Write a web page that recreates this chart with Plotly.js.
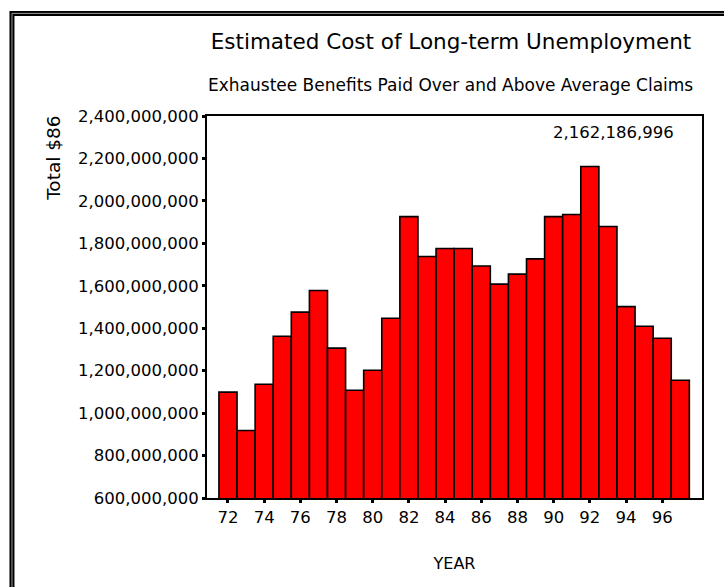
<!DOCTYPE html>
<html>
<head>
<meta charset="utf-8">
<script src="https://cdn.plot.ly/plotly-3.0.1.min.js"></script>
<style>
  html, body { margin: 0; padding: 0; background: #fff; }
  #chart { width: 724px; height: 587px; }
</style>
</head>
<body>
<div id="chart"></div>
<script>
// Data
const years = [72, 73, 74, 75, 76, 77, 78, 79, 80, 81, 82, 83, 84, 85, 86, 87, 88, 89, 90, 91, 92, 93, 94, 95, 96, 97];
const totals = [1099000000, 918000000, 1136000000, 1362000000, 1476000000, 1578000000, 1306000000, 1108000000, 1202000000, 1447000000, 1926000000, 1738000000, 1776000000, 1776000000, 1693000000, 1608000000, 1655000000, 1727000000, 1926000000, 1936000000, 2162186996, 1879000000, 1502000000, 1409000000, 1353000000, 1155000000];
const xTickVals = [72, 74, 76, 78, 80, 82, 84, 86, 88, 90, 92, 94, 96];
const yTickVals = [600000000, 800000000, 1000000000, 1200000000, 1400000000, 1600000000, 1800000000, 2000000000, 2200000000, 2400000000];
const titleText = "Estimated Cost of Long-term Unemployment";
const subtitleText = "Exhaustee Benefits Paid Over and Above Average Claims";
const yTitleText = "Total $86";
const xTitleText = "YEAR";

const FONT = "DejaVu Sans, Verdana, sans-serif";

const maxVal = Math.max(...totals);
const maxYear = years[totals.indexOf(maxVal)];

const trace = {
  type: "bar",
  x: years,
  y: totals,
  width: 1,
  marker: { color: "#ff0000", line: { color: "#000000", width: 1.6 } },
  hoverinfo: "x+y"
};

const layout = {
  width: 724,
  height: 587,
  margin: { l: 207, r: 22, t: 116, b: 89, pad: 0 },
  paper_bgcolor: "#ffffff",
  plot_bgcolor: "#ffffff",
  showlegend: false,
  bargap: 0,
  font: { family: FONT, color: "#000000", size: 16 },
  title: {
    text: titleText,
    font: { family: FONT, size: 21.5, color: "#000000" },
    xref: "container", yref: "container",
    x: 451 / 724, xanchor: "center",
    y: 1 - 41 / 587, yanchor: "middle"
  },
  xaxis: {
    range: [70.84, 98.2],
    tickmode: "array",
    tickvals: xTickVals,
    ticktext: xTickVals.map(String),
    ticks: "outside", ticklen: 3, tickwidth: 3, tickcolor: "#000",
    showline: true, linecolor: "#000", linewidth: 2, mirror: true,
    showgrid: false, zeroline: false,
    tickfont: { family: FONT, size: 16.5, color: "#000" },
    title: { text: xTitleText, font: { family: FONT, size: 16, color: "#000" }, standoff: 32 },
    fixedrange: true
  },
  yaxis: {
    range: [600000000, 2400000000],
    tickmode: "array",
    tickvals: yTickVals,
    tickformat: ",d",
    ticks: "outside", ticklen: 3, tickwidth: 3, tickcolor: "#000",
    showline: true, linecolor: "#000", linewidth: 2, mirror: true,
    showgrid: false, zeroline: false,
    tickfont: { family: FONT, size: 16.5, color: "#000" },
    fixedrange: true
  },
  annotations: [
    {
      text: subtitleText,
      xref: "paper", yref: "paper",
      x: 0.4929, y: 1.0803, xanchor: "center", yanchor: "middle",
      showarrow: false,
      font: { family: FONT, size: 17, color: "#000" }
    },
    {
      text: yTitleText,
      xref: "paper", yref: "paper",
      x: -0.309, y: 0.888, xanchor: "center", yanchor: "middle",
      textangle: -90,
      showarrow: false,
      font: { family: FONT, size: 18.5, color: "#000" }
    },
    {
      text: maxVal.toLocaleString("en-US"),
      xref: "x", yref: "y",
      x: maxYear, y: maxVal,
      xanchor: "center", yanchor: "middle",
      xshift: 24, yshift: 34,
      showarrow: false,
      font: { family: FONT, size: 16.5, color: "#000" }
    }
  ],
  shapes: [
    {
      type: "rect", xref: "paper", yref: "paper",
      x0: -0.394, x1: 1.2, y0: -0.5, y1: 1.2686,
      line: { color: "#000", width: 5 }, fillcolor: "rgba(0,0,0,0)", layer: "above"
    },
    {
      type: "rect", xref: "paper", yref: "paper",
      x0: -0.394, x1: 1.2, y0: -0.5, y1: 1.2686,
      line: { color: "#9a9a9a", width: 1 }, fillcolor: "rgba(0,0,0,0)", layer: "above"
    }
  ]
};

Plotly.newPlot("chart", [trace], layout, { displayModeBar: false, staticPlot: true });
</script>
</body>
</html>
